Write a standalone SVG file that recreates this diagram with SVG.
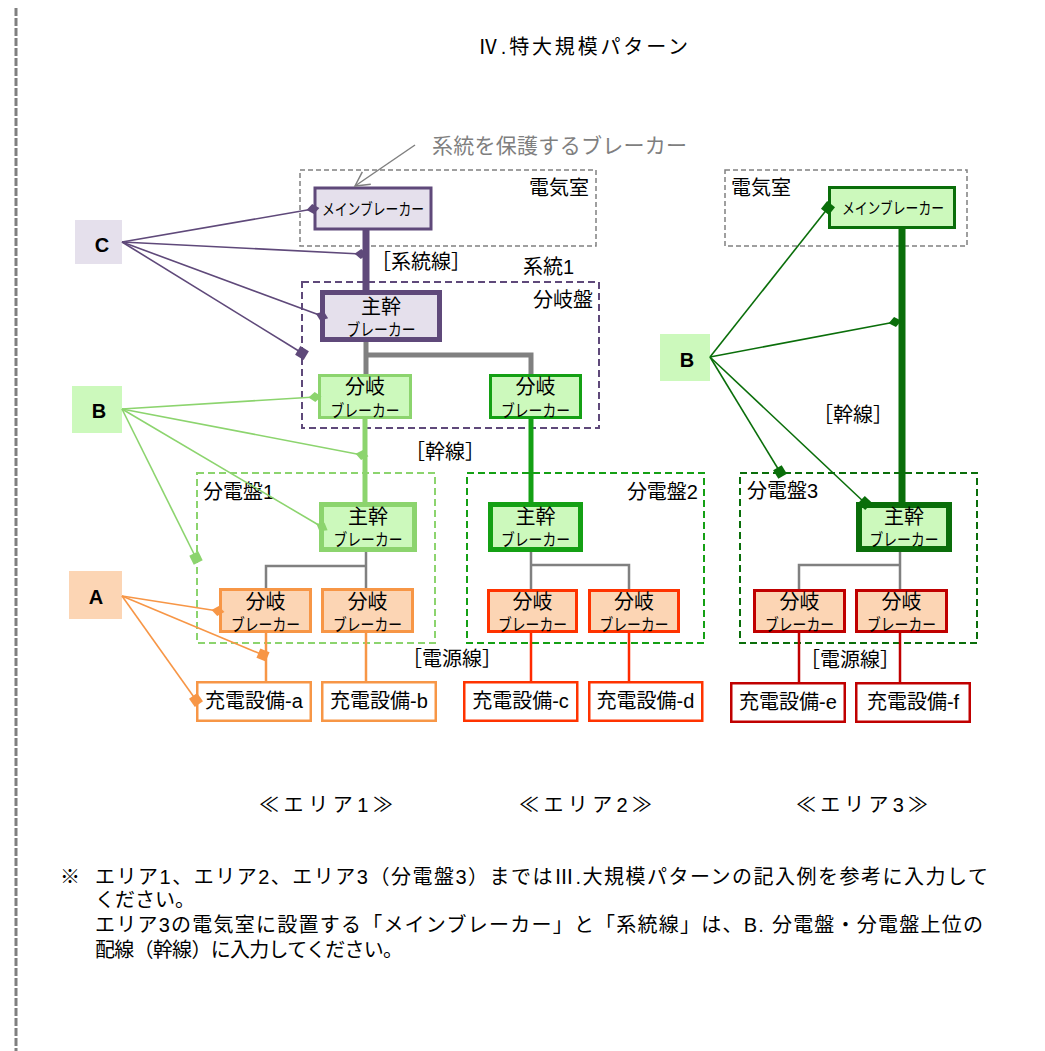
<svg xmlns="http://www.w3.org/2000/svg" width="1045" height="1051" viewBox="0 0 1045 1051">
<defs>
<style>
text{font-family:"Liberation Sans","Noto Sans CJK JP",sans-serif;fill:#000;dominant-baseline:central}
.lbl{font-size:20px}
.big{font-size:20px;text-anchor:middle}
.brk{font-size:17px;text-anchor:middle}
.mb{font-size:16px;text-anchor:middle}
.abc{font-size:20px;font-weight:bold;text-anchor:middle}
.note{font-size:20px}
.room{fill:none;stroke:#808080;stroke-width:1.5;stroke-dasharray:5 3}
.panel{fill:none;stroke-width:2;stroke-dasharray:7 4}
.pur{fill:#e5e0ec;stroke:#5f497a}
.lg{fill:#ccf9bc;stroke:#8cd46e}
.g{fill:#ccf9bc;stroke:#14a014}
.dg{fill:#ccf9bc;stroke:#0a6e0a}
.or{fill:#fcd5b4;stroke:#f79646}
.rd{fill:#fcd5b4;stroke:#ff3300}
.dr{fill:#fcd5b4;stroke:#c00000}
.chg{fill:#fff;stroke-width:2.5}
.wire{fill:none}
.ann{fill:none;stroke-width:1.6}
</style>
<marker id="dP" markerUnits="userSpaceOnUse" viewBox="-7 -6 14 12" markerWidth="14" markerHeight="12" refX="0" refY="0" orient="auto"><path d="M-6.5,0 L0,-5 L6.5,0 L0,5 Z" fill="#5f497a"/></marker>
<marker id="sP" markerUnits="userSpaceOnUse" viewBox="-6 -6 12 12" markerWidth="12" markerHeight="12" refX="0" refY="0" orient="auto"><path d="M-5,-5 H5 V5 H-5 Z" fill="#5f497a"/></marker>
<marker id="dL" markerUnits="userSpaceOnUse" viewBox="-7 -6 14 12" markerWidth="14" markerHeight="12" refX="0" refY="0" orient="auto"><path d="M-6.5,0 L0,-5 L6.5,0 L0,5 Z" fill="#8cd46e"/></marker>
<marker id="sL" markerUnits="userSpaceOnUse" viewBox="-6 -6 12 12" markerWidth="12" markerHeight="12" refX="0" refY="0" orient="auto"><path d="M-5,-5 H5 V5 H-5 Z" fill="#8cd46e"/></marker>
<marker id="dO" markerUnits="userSpaceOnUse" viewBox="-7 -6 14 12" markerWidth="14" markerHeight="12" refX="0" refY="0" orient="auto"><path d="M-6.5,0 L0,-5 L6.5,0 L0,5 Z" fill="#f79646"/></marker>
<marker id="sO" markerUnits="userSpaceOnUse" viewBox="-6 -6 12 12" markerWidth="12" markerHeight="12" refX="0" refY="0" orient="auto"><path d="M-5,-5 H5 V5 H-5 Z" fill="#f79646"/></marker>
<marker id="dD" markerUnits="userSpaceOnUse" viewBox="-7 -6 14 12" markerWidth="14" markerHeight="12" refX="0" refY="0" orient="auto"><path d="M-6.5,0 L0,-5 L6.5,0 L0,5 Z" fill="#0a6e0a"/></marker>
<marker id="sD" markerUnits="userSpaceOnUse" viewBox="-6 -6 12 12" markerWidth="12" markerHeight="12" refX="0" refY="0" orient="auto"><path d="M-5,-5 H5 V5 H-5 Z" fill="#0a6e0a"/></marker>
<marker id="arr" markerUnits="userSpaceOnUse" viewBox="-16 -9 18 18" markerWidth="18" markerHeight="18" refX="0" refY="0" orient="auto"><path d="M-14,-7.5 L0,0 L-14,7.5" fill="none" stroke="#808080" stroke-width="1.5"/></marker>
</defs>

<rect width="1045" height="1051" fill="#fff"/>
<line x1="16" y1="8" x2="16" y2="1051" stroke="#808080" stroke-width="3" stroke-dasharray="8 2"/>

<text class="lbl" x="478" y="47" font-size="22" textLength="210">Ⅳ.特大規模パターン</text>

<g id="protect-note">
<text x="432" y="145" style="font-size:21px;fill:#7f7f7f" textLength="255">系統を保護するブレーカー</text>
</g>

<!-- containers -->
<g id="room1"><rect class="room" x="300" y="170" width="296" height="76"/><text class="lbl" x="589" y="188" text-anchor="end">電気室</text></g>
<g id="room3"><rect class="room" x="725" y="170" width="242" height="76"/><text class="lbl" x="731" y="188">電気室</text></g>
<g id="bunkiban"><rect class="panel" x="302" y="282" width="297" height="146" stroke="#5f497a"/><text class="lbl" x="593" y="300" text-anchor="end">分岐盤</text></g>
<g id="keito1-label"><text class="lbl" x="523" y="267">系統1</text></g>
<g id="panel1"><rect class="panel" x="197" y="473" width="238" height="170" stroke="#8cd46e"/><text class="lbl" x="203" y="492">分電盤1</text></g>
<g id="panel2"><rect class="panel" x="467" y="473" width="237" height="170" stroke="#14a014"/><text class="lbl" x="698" y="492" text-anchor="end">分電盤2</text></g>
<g id="panel3"><rect class="panel" x="740" y="473" width="237" height="170" stroke="#0a6e0a"/><text class="lbl" x="747" y="491">分電盤3</text></g>

<!-- wiring -->
<g id="wires" class="wire">
<path d="M366,229 V293" stroke="#5f497a" stroke-width="7"/>
<path d="M366,342 V375 M366,355 H531 V375" stroke="#808080" stroke-width="5" fill="none"/>
<path d="M365,419 V504" stroke="#8cd46e" stroke-width="5"/>
<path d="M531,419 V504" stroke="#14a014" stroke-width="5"/>
<path d="M902,229 V505" stroke="#0a6e0a" stroke-width="7"/>
<path d="M366,552 V589 M366,566 H266 V589" stroke="#808080" stroke-width="2.5" fill="none"/>
<path d="M531,552 V590 M531,565 H629 V590" stroke="#808080" stroke-width="2.5" fill="none"/>
<path d="M900,552 V590 M900,565 H799 V590" stroke="#808080" stroke-width="2.5" fill="none"/>
<path d="M266,633 V682 M366,633 V682" stroke="#f79646" stroke-width="2.5"/>
<path d="M531,633 V681 M629,633 V681" stroke="#ff2a00" stroke-width="2.5"/>
<path d="M799,633 V682 M900,633 V682" stroke="#c00000" stroke-width="2.5"/>
</g>

<text class="lbl" x="371" y="262">［系統線］</text>
<text class="lbl" x="405" y="452">［幹線］</text>
<text class="lbl" x="402" y="659">［電源線］</text>
<text class="lbl" x="813" y="415">［幹線］</text>
<text class="lbl" x="800" y="660">［電源線］</text>

<!-- nodes -->
<g id="main-breaker-1"><rect class="pur" x="315" y="188" width="116" height="41" stroke-width="3"/><text class="mb" x="373" y="209" textLength="102" lengthAdjust="spacingAndGlyphs">メインブレーカー</text></g>
<g id="trunk-breaker-0"><rect class="pur" x="322.5" y="292.5" width="117" height="47" stroke-width="5"/><text class="big" x="381" y="307">主幹</text><text class="brk" x="381" y="330" textLength="69" lengthAdjust="spacingAndGlyphs">ブレーカー</text></g>
<g id="branch-L"><rect class="lg" x="319.5" y="375.5" width="91" height="42" stroke-width="3"/><text class="big" x="365" y="387">分岐</text><text class="brk" x="365" y="411" textLength="69" lengthAdjust="spacingAndGlyphs">ブレーカー</text></g>
<g id="branch-R"><rect class="g" x="490.5" y="375.5" width="90" height="42" stroke-width="3"/><text class="big" x="535.5" y="387">分岐</text><text class="brk" x="535.5" y="411" textLength="69" lengthAdjust="spacingAndGlyphs">ブレーカー</text></g>

<g id="trunk-breaker-1"><rect class="lg" x="321.5" y="504.5" width="93" height="45" stroke-width="5"/><text class="big" x="368" y="517">主幹</text><text class="brk" x="368" y="540" textLength="69" lengthAdjust="spacingAndGlyphs">ブレーカー</text></g>
<g id="branch-a"><rect class="or" x="220.5" y="589.5" width="90" height="42" stroke-width="3"/><text class="big" x="265.5" y="602">分岐</text><text class="brk" x="265.5" y="625" textLength="69" lengthAdjust="spacingAndGlyphs">ブレーカー</text></g>
<g id="branch-b"><rect class="or" x="322.5" y="589.5" width="90" height="42" stroke-width="3"/><text class="big" x="367.5" y="602">分岐</text><text class="brk" x="367.5" y="625" textLength="69" lengthAdjust="spacingAndGlyphs">ブレーカー</text></g>
<g id="charger-a"><rect class="chg" x="197.25" y="682.25" width="113.5" height="38.5" stroke="#f79646"/><text class="big" x="254" y="701">充電設備-a</text></g>
<g id="charger-b"><rect class="chg" x="322.25" y="682.25" width="113.5" height="38.5" stroke="#f79646"/><text class="big" x="379" y="701">充電設備-b</text></g>

<g id="trunk-breaker-2"><rect class="g" x="490.5" y="504.5" width="90" height="45" stroke-width="5"/><text class="big" x="535.5" y="517">主幹</text><text class="brk" x="535.5" y="540" textLength="69" lengthAdjust="spacingAndGlyphs">ブレーカー</text></g>
<g id="branch-c"><rect class="rd" x="488.5" y="590.5" width="88" height="41" stroke-width="3"/><text class="big" x="532.5" y="602">分岐</text><text class="brk" x="532.5" y="625" textLength="69" lengthAdjust="spacingAndGlyphs">ブレーカー</text></g>
<g id="branch-d"><rect class="rd" x="589.5" y="590.5" width="89" height="41" stroke-width="3"/><text class="big" x="634" y="602">分岐</text><text class="brk" x="634" y="625" textLength="69" lengthAdjust="spacingAndGlyphs">ブレーカー</text></g>
<g id="charger-c"><rect class="chg" x="464.25" y="682.25" width="113" height="38.5" stroke="#ff3300"/><text class="big" x="520.5" y="701">充電設備-c</text></g>
<g id="charger-d"><rect class="chg" x="589.25" y="682.25" width="113" height="38.5" stroke="#ff3300"/><text class="big" x="645.5" y="701">充電設備-d</text></g>

<g id="main-breaker-3"><rect class="dg" x="829.5" y="187.5" width="125" height="40" stroke-width="3"/><text class="mb" x="893" y="208" textLength="102" lengthAdjust="spacingAndGlyphs">メインブレーカー</text></g>
<g id="trunk-breaker-3"><rect class="dg" x="859" y="505" width="90" height="44" stroke-width="6"/><text class="big" x="904" y="517">主幹</text><text class="brk" x="904" y="540" textLength="69" lengthAdjust="spacingAndGlyphs">ブレーカー</text></g>
<g id="branch-e"><rect class="dr" x="754.5" y="590.5" width="90" height="41" stroke-width="3"/><text class="big" x="799.5" y="602">分岐</text><text class="brk" x="799.5" y="625" textLength="69" lengthAdjust="spacingAndGlyphs">ブレーカー</text></g>
<g id="branch-f"><rect class="dr" x="856.5" y="590.5" width="90" height="41" stroke-width="3"/><text class="big" x="901.5" y="602">分岐</text><text class="brk" x="901.5" y="625" textLength="69" lengthAdjust="spacingAndGlyphs">ブレーカー</text></g>
<g id="charger-e"><rect class="chg" x="731.25" y="683.25" width="113.5" height="38.5" stroke="#c00000"/><text class="big" x="788" y="702">充電設備-e</text></g>
<g id="charger-f"><rect class="chg" x="856.25" y="683.25" width="113.5" height="38.5" stroke="#c00000"/><text class="big" x="913" y="702">充電設備-f</text></g>

<!-- category labels -->
<g id="label-C"><rect x="75" y="220" width="47" height="44" fill="#e5e0ec"/><text class="abc" x="102" y="245">C</text></g>
<g id="label-B1"><rect x="72" y="386" width="50" height="47" fill="#ccf9bc"/><text class="abc" x="99" y="411">B</text></g>
<g id="label-A"><rect x="69" y="571" width="53" height="48" fill="#fcd5b4"/><text class="abc" x="96" y="597">A</text></g>
<g id="label-B3"><rect x="660" y="334" width="50" height="47" fill="#ccf9bc"/><text class="abc" x="687" y="360">B</text></g>

<!-- connectors -->
<g id="connectors" class="ann">
<line x1="415" y1="145" x2="355" y2="186" stroke="#808080" stroke-width="1.5" marker-end="url(#arr)"/>
<g stroke="#5f497a">
<line x1="122" y1="242" x2="313" y2="209" marker-end="url(#dP)"/>
<line x1="122" y1="242" x2="361" y2="254" marker-end="url(#dP)"/>
<line x1="122" y1="242" x2="322" y2="316" marker-end="url(#dP)"/>
<line x1="122" y1="242" x2="302" y2="353" marker-end="url(#sP)"/>
</g>
<g stroke="#8cd46e">
<line x1="122" y1="409" x2="315" y2="397" marker-end="url(#dL)"/>
<line x1="122" y1="409" x2="362" y2="455" marker-end="url(#dL)"/>
<line x1="122" y1="409" x2="322" y2="527" marker-end="url(#dL)"/>
<line x1="122" y1="409" x2="196" y2="558" marker-end="url(#sL)"/>
</g>
<g stroke="#f79646">
<line x1="122" y1="596" x2="218" y2="611" marker-end="url(#dO)"/>
<line x1="122" y1="596" x2="263" y2="655" marker-end="url(#sO)"/>
<line x1="122" y1="596" x2="196" y2="700" marker-end="url(#sO)"/>
</g>
<g stroke="#0a6e0a">
<line x1="710" y1="357" x2="828" y2="208" marker-end="url(#sD)"/>
<line x1="710" y1="357" x2="895" y2="322" marker-end="url(#dD)"/>
<line x1="710" y1="357" x2="780" y2="472" marker-end="url(#sD)"/>
<line x1="710" y1="357" x2="865" y2="503" marker-end="url(#sD)"/>
</g>
</g>

<!-- area captions -->
<text class="lbl" x="259" y="805" font-size="22" textLength="134">≪エリア1≫</text>
<text class="lbl" x="519" y="805" font-size="22" textLength="133">≪エリア2≫</text>
<text class="lbl" x="796" y="805" font-size="22" textLength="132">≪エリア3≫</text>

<!-- note -->
<text class="note" x="60" y="877">※</text>
<text class="note" x="95" y="877" textLength="893">エリア1、エリア2、エリア3（分電盤3）まではⅢ.大規模パターンの記入例を参考に入力して</text>
<text class="note" x="95" y="900">ください。</text>
<text class="note" x="95" y="925" textLength="888">エリア3の電気室に設置する「メインブレーカー」と「系統線」は、B. 分電盤・分電盤上位の</text>
<text class="note" x="95" y="950" textLength="308">配線（幹線）に入力してください。</text>
</svg>
